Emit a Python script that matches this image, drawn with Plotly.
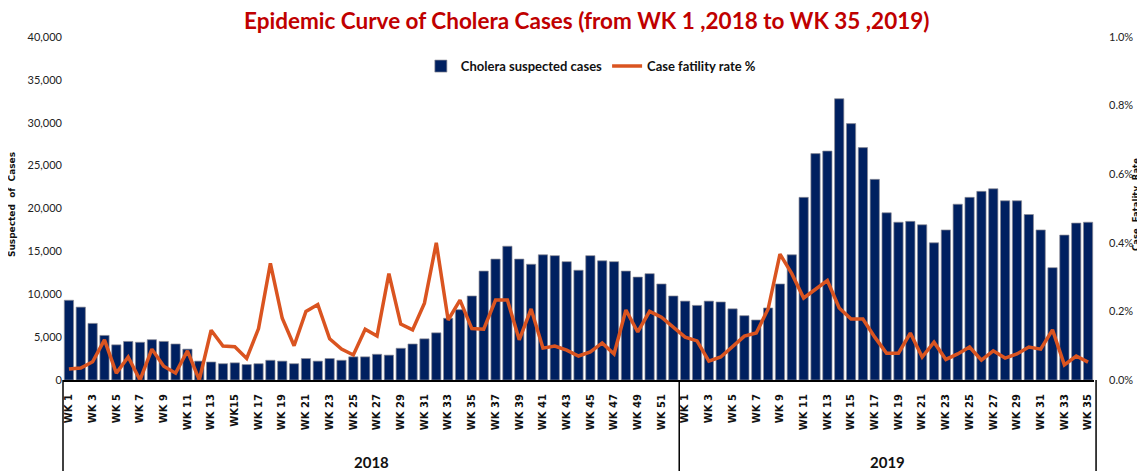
import plotly.graph_objects as go

# ---- data ----
weeks_2018 = [f"WK {i}" for i in range(1, 53)]
weeks_2019 = [f"WK {i}" for i in range(1, 36)]
years = ["2018"] * len(weeks_2018) + ["2019"] * len(weeks_2019)
week_labels = weeks_2018 + weeks_2019

cases_2018 = [9300, 8500, 6600, 5200, 4100, 4500, 4400, 4700, 4500, 4200,
              3600, 2200, 2100, 1900, 2000, 1800, 1900, 2300, 2200, 1900,
              2500, 2200, 2500, 2300, 2700, 2700, 3000, 2900, 3700, 4200,
              4800, 5500, 7200, 8200, 9800, 12700, 14100, 15600, 14100, 13500,
              14600, 14500, 13800, 12800, 14500, 13900, 13800, 12700, 12000, 12400,
              11200, 9800]
cases_2019 = [9200, 8700, 9200, 9100, 8300, 7500, 7000, 8400, 11200, 14600,
              21300, 26400, 26700, 32800, 29900, 27100, 23400, 19500, 18400, 18500,
              18100, 16000, 17500, 20500, 21300, 22000, 22300, 20900, 20900, 19300,
              17500, 13100, 16900, 18300, 18400]

cfr_2018 = [0.032, 0.035, 0.053, 0.117, 0.020, 0.067, 0.000, 0.090, 0.040, 0.020,
            0.085, 0.000, 0.145, 0.099, 0.097, 0.063, 0.150, 0.340, 0.180, 0.100,
            0.200, 0.220, 0.120, 0.090, 0.073, 0.148, 0.128, 0.310, 0.163, 0.146,
            0.224, 0.400, 0.175, 0.233, 0.150, 0.148, 0.233, 0.233, 0.117, 0.207,
            0.093, 0.099, 0.087, 0.070, 0.082, 0.108, 0.076, 0.204, 0.140, 0.200,
            0.183, 0.155]
cfr_2019 = [0.125, 0.114, 0.055, 0.067, 0.099, 0.128, 0.137, 0.207, 0.367, 0.310,
            0.239, 0.265, 0.290, 0.210, 0.178, 0.178, 0.125, 0.078, 0.078, 0.137,
            0.067, 0.110, 0.060, 0.076, 0.096, 0.058, 0.085, 0.064, 0.076, 0.096,
            0.090, 0.146, 0.044, 0.070, 0.052]

cases = cases_2018 + cases_2019
cfr = cfr_2018 + cfr_2019
xs = list(range(len(cases)))

tick_text = [("WK15" if (y == "2018" and w == "WK 15") else w)
             for y, w in zip(years, week_labels)]
tick_vals = [x for x, w in zip(xs, week_labels) if int(w.split()[1]) % 2 == 1]
tick_show = [tick_text[x] for x in tick_vals]

NAVY = "#002060"
ORANGE = "#DA5420"
NARROW = "Lato, Roboto, sans-serif"
VERD = "DejaVu Sans, Verdana, sans-serif"

fig = go.Figure()
fig.add_trace(go.Bar(
    x=xs, y=cases, name="<b>Cholera suspected cases</b>",
    marker=dict(color=NAVY, line=dict(color="rgba(140,140,150,0.7)", width=1)),
))
fig.add_trace(go.Scatter(
    x=xs, y=cfr, name="<b>Case fatility rate %</b>", yaxis="y2", mode="lines",
    line=dict(color=ORANGE, width=3.5),
))

n2018 = len(weeks_2018)
n = len(cases)
shapes = [
    dict(type="line", xref="paper", yref="paper", x0=0, x1=0, y0=0, y1=-0.3,
         line=dict(color="black", width=1.5)),
    dict(type="line", xref="x", yref="paper", x0=n2018 - 0.5, x1=n2018 - 0.5, y0=0, y1=-0.3,
         line=dict(color="black", width=1.5)),
    dict(type="line", xref="paper", yref="paper", x0=1.002, x1=1.002, y0=0, y1=-0.3,
         line=dict(color="black", width=1.5)),
]

annotations = [
    dict(text="<b>2018</b>", x=(n2018 - 1) / 2, xref="x", y=-0.27, yref="paper",
         showarrow=False, font=dict(family=NARROW, size=15, color="#111")),
    dict(text="<b>2019</b>", x=n2018 + (len(weeks_2019) - 1) / 2 + 0.1, xref="x", y=-0.27,
         yref="paper", showarrow=False, font=dict(family=NARROW, size=15, color="#111")),
    dict(text="<b>Suspected  of  Cases</b>", x=0, xref="paper", xanchor="center", xshift=-51,
         y=0.51, yref="paper", yanchor="middle", textangle=-90, showarrow=False,
         font=dict(family=VERD, size=9, color="#111")),
    dict(text="<b>Case  Fatality  Rate</b>", x=1, xref="paper", xanchor="center", xshift=42,
         y=0.51, yref="paper", yanchor="middle", textangle=-90, showarrow=False,
         font=dict(family=VERD, size=8.5, color="#111")),
]

fig.update_layout(
    width=1137, height=463, autosize=False,
    margin=dict(l=55, r=48, t=29, b=91),
    plot_bgcolor="white", paper_bgcolor="white",
    title=dict(text="<b>Epidemic Curve of Cholera Cases (from WK 1 ,2018 to WK 35 ,2019)</b>",
               x=0.509, xanchor="center", y=0.972, yanchor="middle",
               font=dict(family=NARROW, size=22.5, color="#C00000")),
    legend=dict(orientation="h", x=0.512, xanchor="center", y=0.915, yanchor="middle",
                font=dict(family=NARROW, size=13, color="#111"), bgcolor="rgba(0,0,0,0)",
                itemwidth=30),
    bargap=0.22,
    showlegend=True,
    xaxis=dict(range=[-0.5, n - 0.5], tickmode="array", tickvals=tick_vals,
               ticktext=[f"<b>{t}</b>" for t in tick_show], tickangle=-90,
               tickfont=dict(family=VERD, size=10, color="#111"),
               showline=True, linecolor="black", linewidth=2, showgrid=False,
               ticks="", zeroline=False, ticklabelstandoff=8),
    yaxis=dict(range=[0, 40000], tickmode="linear", tick0=0, dtick=5000,
               tickformat=",", showgrid=False, zeroline=False, showline=False,
               tickfont=dict(family=NARROW, size=11, color="#222")),
    yaxis2=dict(range=[0, 1.0], overlaying="y", side="right", tickmode="linear",
                tick0=0, dtick=0.2, tickformat=".1f", ticksuffix="%",
                showgrid=False, zeroline=False, showline=False,
                tickfont=dict(family=NARROW, size=11, color="#222"),
                ticklabelstandoff=14),
    shapes=shapes,
    annotations=annotations,
)

fig.write_html("out.html")
